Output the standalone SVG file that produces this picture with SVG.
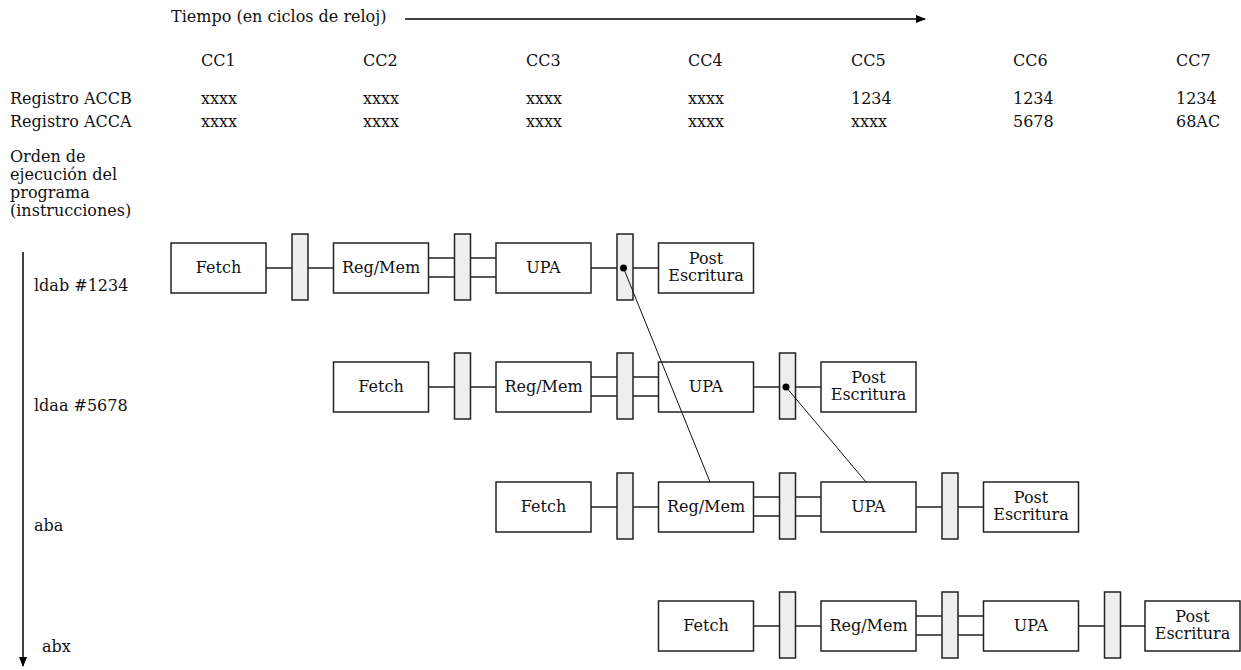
<svg xmlns="http://www.w3.org/2000/svg" width="1241" height="670" viewBox="0 0 1241 670">
  <style>
    text { font-family: "DejaVu Serif", "Liberation Serif", serif; font-size: 16px; fill: #111; }
    .c { text-anchor: middle; }
    .box { fill: #fff; stroke: #222; stroke-width: 1.5; }
    .latch { fill: #eeeeee; stroke: #222; stroke-width: 1.5; }
    .wire { stroke: #222; stroke-width: 1.5; fill: none; }
    .fwd { stroke: #111; stroke-width: 1; fill: none; }
    .axis { stroke: #000; stroke-width: 1.5; fill: none; }
  </style>
  <defs>
    <marker id="arrow" markerWidth="10" markerHeight="8" refX="9" refY="4" orient="auto" markerUnits="userSpaceOnUse">
      <path d="M0,0 L10,4 L0,8 z" fill="#000"/>
    </marker>
  </defs>
  <rect width="1241" height="670" fill="#fff"/>

  <!-- time axis and clock cycle headings -->
  <g id="header">
    <text x="171" y="22">Tiempo (en ciclos de reloj)</text>
    <line class="axis" x1="405" y1="19" x2="925" y2="19" marker-end="url(#arrow)"/>
    <text x="201" y="66">CC1</text>
    <text x="363" y="66">CC2</text>
    <text x="526" y="66">CC3</text>
    <text x="688" y="66">CC4</text>
    <text x="851" y="66">CC5</text>
    <text x="1013" y="66">CC6</text>
    <text x="1176" y="66">CC7</text>
  </g>

  <!-- register contents per cycle -->
  <g id="registers">
    <text x="10" y="104">Registro ACCB</text>
    <text x="201" y="104">xxxx</text>
    <text x="363" y="104">xxxx</text>
    <text x="526" y="104">xxxx</text>
    <text x="688" y="104">xxxx</text>
    <text x="851" y="104">1234</text>
    <text x="1013" y="104">1234</text>
    <text x="1176" y="104">1234</text>
    <text x="10" y="127">Registro ACCA</text>
    <text x="201" y="127">xxxx</text>
    <text x="363" y="127">xxxx</text>
    <text x="526" y="127">xxxx</text>
    <text x="688" y="127">xxxx</text>
    <text x="851" y="127">xxxx</text>
    <text x="1013" y="127">5678</text>
    <text x="1176" y="127">68AC</text>
  </g>

  <!-- program order axis -->
  <g id="order">
    <text x="10" y="162">Orden de</text>
    <text x="10" y="180">ejecución del</text>
    <text x="10" y="198">programa</text>
    <text x="10" y="216">(instrucciones)</text>
    <line class="axis" x1="23" y1="252" x2="23" y2="666" marker-end="url(#arrow)"/>
    <text x="34" y="291">ldab #1234</text>
    <text x="34" y="411">ldaa #5678</text>
    <text x="34" y="531">aba</text>
    <text x="42" y="652">abx</text>
  </g>

  <!-- instruction 1: ldab #1234 -->
  <g id="i1-fetch" transform="translate(171,243)"><rect class="box" x="0" y="0" width="95" height="50"/><text class="c" x="47.5" y="30">Fetch</text></g>
  <g id="i1-latch1" transform="translate(171,243)"><rect class="latch" x="121" y="-9" width="16" height="66"/></g>
  <g id="i1-regmem" transform="translate(171,243)"><rect class="box" x="162.5" y="0" width="95" height="50"/><text class="c" x="210" y="30">Reg/Mem</text></g>
  <g id="i1-latch2" transform="translate(171,243)"><rect class="latch" x="283.5" y="-9" width="16" height="66"/></g>
  <g id="i1-upa" transform="translate(171,243)"><rect class="box" x="325" y="0" width="95" height="50"/><text class="c" x="372.5" y="30">UPA</text></g>
  <g id="i1-latch3" transform="translate(171,243)"><rect class="latch" x="446" y="-9" width="16" height="66"/></g>
  <g id="i1-post" transform="translate(171,243)"><rect class="box" x="487.5" y="0" width="95" height="50"/><text class="c" x="535" y="21">Post</text><text class="c" x="535" y="38">Escritura</text></g>

  <!-- instruction 2: ldaa #5678 -->
  <g id="i2-fetch" transform="translate(333.5,362)"><rect class="box" x="0" y="0" width="95" height="50"/><text class="c" x="47.5" y="30">Fetch</text></g>
  <g id="i2-latch1" transform="translate(333.5,362)"><rect class="latch" x="121" y="-9" width="16" height="66"/></g>
  <g id="i2-regmem" transform="translate(333.5,362)"><rect class="box" x="162.5" y="0" width="95" height="50"/><text class="c" x="210" y="30">Reg/Mem</text></g>
  <g id="i2-latch2" transform="translate(333.5,362)"><rect class="latch" x="283.5" y="-9" width="16" height="66"/></g>
  <g id="i2-upa" transform="translate(333.5,362)"><rect class="box" x="325" y="0" width="95" height="50"/><text class="c" x="372.5" y="30">UPA</text></g>
  <g id="i2-latch3" transform="translate(333.5,362)"><rect class="latch" x="446" y="-9" width="16" height="66"/></g>
  <g id="i2-post" transform="translate(333.5,362)"><rect class="box" x="487.5" y="0" width="95" height="50"/><text class="c" x="535" y="21">Post</text><text class="c" x="535" y="38">Escritura</text></g>

  <!-- instruction 3: aba -->
  <g id="i3-fetch" transform="translate(496,482)"><rect class="box" x="0" y="0" width="95" height="50"/><text class="c" x="47.5" y="30">Fetch</text></g>
  <g id="i3-latch1" transform="translate(496,482)"><rect class="latch" x="121" y="-9" width="16" height="66"/></g>
  <g id="i3-regmem" transform="translate(496,482)"><rect class="box" x="162.5" y="0" width="95" height="50"/><text class="c" x="210" y="30">Reg/Mem</text></g>
  <g id="i3-latch2" transform="translate(496,482)"><rect class="latch" x="283.5" y="-9" width="16" height="66"/></g>
  <g id="i3-upa" transform="translate(496,482)"><rect class="box" x="325" y="0" width="95" height="50"/><text class="c" x="372.5" y="30">UPA</text></g>
  <g id="i3-latch3" transform="translate(496,482)"><rect class="latch" x="446" y="-9" width="16" height="66"/></g>
  <g id="i3-post" transform="translate(496,482)"><rect class="box" x="487.5" y="0" width="95" height="50"/><text class="c" x="535" y="21">Post</text><text class="c" x="535" y="38">Escritura</text></g>

  <!-- instruction 4: abx -->
  <g id="i4-fetch" transform="translate(658.5,601)"><rect class="box" x="0" y="0" width="95" height="50"/><text class="c" x="47.5" y="30">Fetch</text></g>
  <g id="i4-latch1" transform="translate(658.5,601)"><rect class="latch" x="121" y="-9" width="16" height="66"/></g>
  <g id="i4-regmem" transform="translate(658.5,601)"><rect class="box" x="162.5" y="0" width="95" height="50"/><text class="c" x="210" y="30">Reg/Mem</text></g>
  <g id="i4-latch2" transform="translate(658.5,601)"><rect class="latch" x="283.5" y="-9" width="16" height="66"/></g>
  <g id="i4-upa" transform="translate(658.5,601)"><rect class="box" x="325" y="0" width="95" height="50"/><text class="c" x="372.5" y="30">UPA</text></g>
  <g id="i4-latch3" transform="translate(658.5,601)"><rect class="latch" x="446" y="-9" width="16" height="66"/></g>
  <g id="i4-post" transform="translate(658.5,601)"><rect class="box" x="486.5" y="0" width="95" height="50"/><text class="c" x="534" y="21">Post</text><text class="c" x="534" y="38">Escritura</text></g>

  <!-- wires between stages and latches, drawn above the nodes -->
  <g id="connectors">
    <g transform="translate(171,243)">
      <path class="wire" d="M95,25H121M137,25H162.5M257.5,15H283.5M257.5,34H283.5M299.5,15H325M299.5,34H325M420,25H446M462,25H487.5"/>
    </g>
    <g transform="translate(333.5,362)">
      <path class="wire" d="M95,25H121M137,25H162.5M257.5,15H283.5M257.5,34H283.5M299.5,15H325M299.5,34H325M420,25H446M462,25H487.5"/>
    </g>
    <g transform="translate(496,482)">
      <path class="wire" d="M95,25H121M137,25H162.5M257.5,15H283.5M257.5,34H283.5M299.5,15H325M299.5,34H325M420,25H446M462,25H487.5"/>
    </g>
    <g transform="translate(658.5,601)">
      <path class="wire" d="M95,25H121M137,25H162.5M257.5,15H283.5M257.5,34H283.5M299.5,15H325M299.5,34H325M420,25H446M462,25H486.5"/>
    </g>
    <!-- forwarding paths -->
    <line class="fwd" x1="623.5" y1="268" x2="710" y2="482"/>
    <line class="fwd" x1="786" y1="387" x2="866" y2="482"/>
    <circle cx="623.5" cy="268" r="3.5" fill="#000"/>
    <circle cx="786" cy="387" r="3.5" fill="#000"/>
  </g>
</svg>
